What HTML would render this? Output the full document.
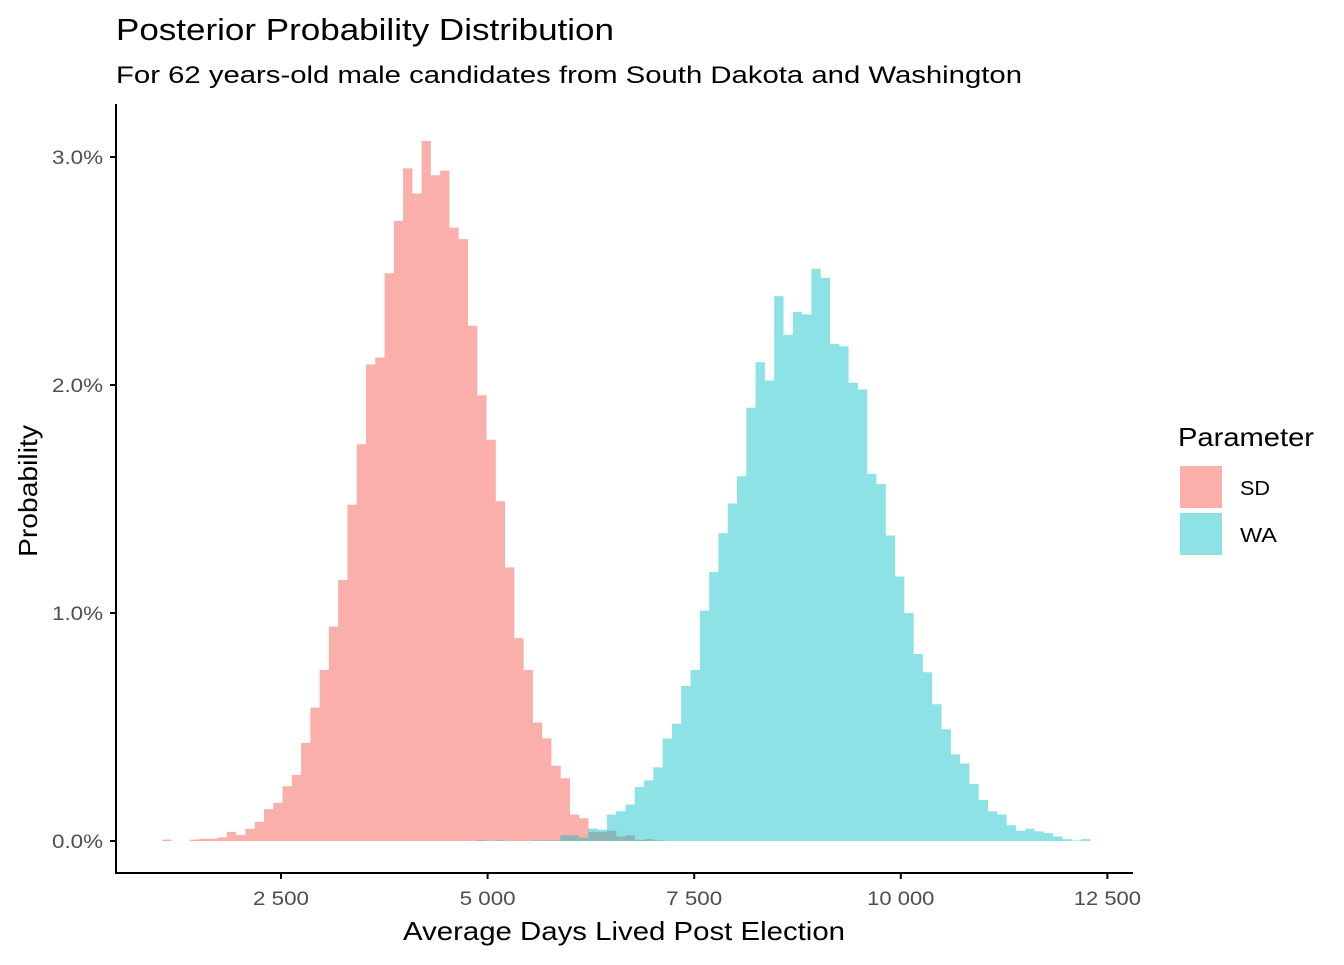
<!DOCTYPE html>
<html><head><meta charset="utf-8"><style>
body{margin:0;background:#fff;}
svg text{font-family:"Liberation Sans",Arial,sans-serif;}
</style></head><body>
<svg id="chart" width="1344" height="960" viewBox="0 0 1344 960" xmlns="http://www.w3.org/2000/svg">
<rect width="1344" height="960" fill="#fff"/>
<text x="116" y="40" font-size="31" textLength="498" lengthAdjust="spacingAndGlyphs" fill="#000">Posterior Probability Distribution</text>
<text x="116" y="83" font-size="24" textLength="906" lengthAdjust="spacingAndGlyphs" fill="#000">For 62 years-old male candidates from South Dakota and Washington</text>
<g id="bars-sd"></g>
<g id="bars-wa"></g>
<g id="axes"></g>
<text x="403" y="940" font-size="26" textLength="442" lengthAdjust="spacingAndGlyphs" fill="#000">Average Days Lived Post Election</text>
<text transform="translate(37,557) rotate(-90)" font-size="26" textLength="132" lengthAdjust="spacingAndGlyphs" fill="#000">Probability</text>
<g>
<text x="1178" y="446" font-size="26" textLength="136" lengthAdjust="spacingAndGlyphs" fill="#000">Parameter</text>
<rect x="1180" y="466" width="42" height="42" fill="#F8766D" fill-opacity="0.58"/>
<text x="1240" y="495" font-size="20" textLength="30" lengthAdjust="spacingAndGlyphs" fill="#000">SD</text>
<rect x="1180" y="513" width="42" height="42" fill="#00BFC4" fill-opacity="0.45"/>
<text x="1240" y="542" font-size="20" textLength="37" lengthAdjust="spacingAndGlyphs" fill="#000">WA</text>
</g>
</svg>
<script>
const sdStart = 1060;
const sdBinWidth = 112.2;
const sdValues = [0.006,0,0,0.006,0.01,0.01,0.016,0.04,0.026,0.054,0.084,0.14,0.167,0.24,0.29,0.43,0.585,0.75,0.94,1.145,1.475,1.74,2.09,2.12,2.49,2.72,2.95,2.84,3.07,2.92,2.94,2.69,2.64,2.26,1.955,1.76,1.49,1.20,0.89,0.75,0.52,0.45,0.33,0.275,0.116,0.10,0.04,0.04,0.045,0.02,0.025,0.005,0.008,0.003];
const waStart = 4868;
const waBinWidth = 112.5;
const waValues = [0.003,0,0.003,0,0,0,0.002,0.002,0.002,0.025,0.025,0.015,0.055,0.05,0.116,0.13,0.16,0.237,0.266,0.323,0.449,0.514,0.68,0.75,1.01,1.18,1.35,1.48,1.60,1.90,2.10,2.02,2.39,2.22,2.32,2.31,2.51,2.47,2.18,2.17,2.01,1.98,1.61,1.565,1.34,1.16,1.00,0.82,0.74,0.60,0.49,0.38,0.34,0.25,0.18,0.13,0.116,0.069,0.045,0.054,0.042,0.035,0.02,0.008,0.003,0.008];
const xTicks = [2500,5000,7500,10000,12500];
const xTickLabels = ["2 500","5 000","7 500","10 000","12 500"];
const yTicks = [0,1,2,3];
const yTickLabels = ["0.0%","1.0%","2.0%","3.0%"];

const NS = "http://www.w3.org/2000/svg";
function xS(v){ return 281 + (v-2500)*0.082640; }
function yS(p){ return 841 - p*228; }

function drawBars(gid, start, w, vals, color, op){
  const g = document.getElementById(gid);
  let d = 'M' + xS(start) + ' 841';
  vals.forEach((v,i)=>{
    const x0 = xS(start+i*w), x1 = xS(start+(i+1)*w);
    d += ' L' + x0 + ' ' + yS(v) + ' L' + x1 + ' ' + yS(v);
  });
  d += ' L' + xS(start+vals.length*w) + ' 841 Z';
  const p = document.createElementNS(NS,'path');
  
  
  p.setAttribute('d', d);
  p.setAttribute('fill', color); p.setAttribute('fill-opacity', op);
  g.appendChild(p);
}
drawBars('bars-sd', sdStart, sdBinWidth, sdValues, '#F8766D', 0.58);
drawBars('bars-wa', waStart, waBinWidth, waValues, '#00BFC4', 0.45);

const ax = document.getElementById('axes');
function line(x1,y1,x2,y2,name){
  const l = document.createElementNS(NS,'line');
  
  
  l.setAttribute('x1',x1);l.setAttribute('y1',y1);l.setAttribute('x2',x2);l.setAttribute('y2',y2);
  l.setAttribute('stroke','#000');l.setAttribute('stroke-width','2');
  ax.appendChild(l);
}
function txt(x,y,s,anchor,name,len){
  const t = document.createElementNS(NS,'text');
  
  
  t.setAttribute('x',x);t.setAttribute('y',y);t.setAttribute('text-anchor',anchor);
  t.setAttribute('font-size','19');t.setAttribute('fill','#4d4d4d');
  t.setAttribute('textLength',len);t.setAttribute('lengthAdjust','spacingAndGlyphs');
  t.textContent = s; ax.appendChild(t);
}
line(116,104,116,874,'y-axis-line');
line(115,873,1133,873,'x-axis-line');
xTicks.forEach((v,i)=>{ const x=xS(v); line(x,873,x,879,'x-tick'); txt(x,905,xTickLabels[i],'middle','x-tick-label', xTickLabels[i].length*11.2); });
yTicks.forEach((v,i)=>{ const y=yS(v); line(110,y,116,y,'y-tick'); txt(103,y+7,yTickLabels[i],'end','y-tick-label',51); });
</script>
</body></html>
